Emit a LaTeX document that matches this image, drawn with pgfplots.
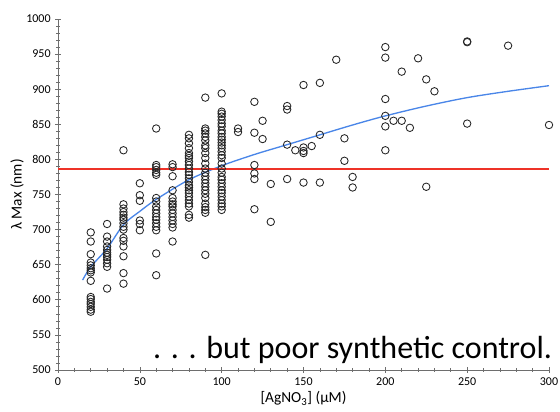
\documentclass[border=0pt]{standalone}
\usepackage{fontspec}
\setmainfont{Carlito}
\usepackage{pgfplots}
\pgfplotsset{compat=1.18}
\definecolor{fitblue}{RGB}{74,134,232}
\definecolor{hlred}{RGB}{238,50,40}
\definecolor{axgray}{RGB}{110,110,110}
\begin{document}
\begin{tikzpicture}
\begin{axis}[
  scale only axis, width=368.25pt, height=263.25pt,
  xmin=0, xmax=300, ymin=500, ymax=1000,
  axis lines=left, axis line style={axgray, line width=0.6pt, -},
  xtick={0,50,...,300}, ytick={500,550,...,1000},
  minor x tick num=4, minor y tick num=4,
  tick align=center, major tick length=4pt, minor tick length=2.5pt,
  every tick/.style={axgray, line width=0.5pt},
  tick label style={font=\fontsize{9}{10}\selectfont},
  /pgf/number format/assume math mode=true,
  /pgf/number format/1000 sep={},
  xlabel={[AgNO\textsubscript{3}] (μM)}, ylabel={λ Max (nm)},
  label style={font=\fontsize{11.5}{13}\selectfont},
  xlabel style={yshift=2pt},
  ylabel style={yshift=-5pt},
  clip=false,
]
\addplot[color=fitblue, mark=none, line width=1pt, smooth] coordinates {
(15,628) (20,647) (30,673) (40,707) (50,726) (60,743) (80,771) (100,791) (120,807) (140,821) (160,835) (180,849) (200,862) (225,876) (250,888) (275,897) (300,905)};
\addplot[only marks, mark=o, mark size=2.8pt, mark options={line width=0.65pt, draw=black!85}] table {
x y
20 696
20 683
20 665
20 653
20 649
20 645
20 642
20 639
20 627
20 604
20 601
20 597
20 594
20 590
20 586
20 583
30 708
30 690
30 683
30 676
30 671
30 667
30 664
30 661
30 657
30 652
30 647
30 616
40 813
40 736
40 730
40 725
40 721
40 717
40 714
40 709
40 704
40 700
40 688
40 684
40 676
40 662
40 638
40 623
50 766
50 749
50 741
50 713
50 708
50 699
60 844
60 792
60 789
60 785
60 781
60 778
60 745
60 740
60 733
60 728
60 723
60 718
60 714
60 709
60 704
60 699
60 666
60 635
70 793
70 789
70 776
70 756
70 745
70 740
70 736
70 733
70 728
70 723
70 718
70 713
70 708
70 703
70 683
80 835
80 830
80 823
80 816
80 809
80 805
80 802
80 797
80 792
80 787
80 782
80 778
80 773
80 768
80 763
80 760
80 756
80 752
80 747
80 742
80 737
80 733
80 721
80 717
90 888
90 844
90 841
90 837
90 832
90 827
90 820
90 816
90 809
90 802
90 794
90 787
90 781
90 776
90 771
90 766
90 761
90 756
90 751
90 745
90 737
90 732
90 728
90 724
90 664
100 894
100 868
100 865
100 861
100 856
100 851
100 847
100 841
100 837
100 832
100 828
100 824
100 820
100 816
100 811
100 806
100 802
100 794
100 787
100 781
100 775
100 771
100 766
100 761
100 756
100 752
100 747
100 742
100 737
100 733
100 728
110 844
110 839
120 882
120 838
120 792
120 780
120 772
120 729
125 855
125 829
130 765
130 711
140 876
140 871
140 821
140 772
145 813
150 906
150 817
150 812
150 809
150 767
155 819
160 909
160 835
160 767
170 942
175 830
175 798
180 775
180 760
200 960
200 945
200 886
200 862
200 847
200 813
205 855
210 925
210 855
215 845
220 944
225 914
225 761
230 897
250 968
250 967
250 851
275 962
300 849
};
\addplot[draw=hlred, mark=none, line width=1.2pt, solid] coordinates {(0,786) (300,786)};
\node[anchor=base east, font=\fontsize{24}{28}\selectfont, inner sep=0pt] at (axis cs:302,517) {. . . but poor synthetic control.};
\end{axis}
\pgfresetboundingbox
\path[use as bounding box] ([xshift=-43.5pt,yshift=-31.5pt]current axis.south west) rectangle ([xshift=8.25pt,yshift=14.25pt]current axis.north east);
\end{tikzpicture}
\end{document}
